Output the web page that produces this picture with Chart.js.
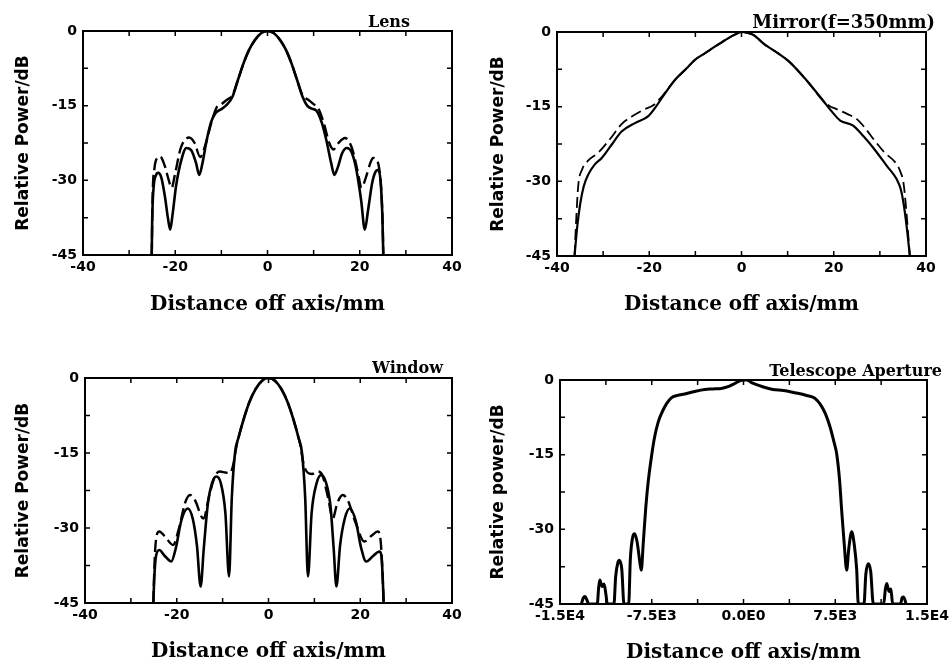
<!DOCTYPE html>
<html>
<head>
<meta charset="utf-8">
<script src="https://cdn.jsdelivr.net/npm/chart.js@4.4.1/dist/chart.umd.min.js"></script>
<style>
  body { margin: 0; background: #fff; }
  #wrap { position: relative; width: 951px; height: 665px; background: #fff; }
  canvas { position: absolute; }
</style>
</head>
<body>
<div id="wrap">
  <canvas id="lens" width="475" height="332" style="left:0;top:0"></canvas>
  <canvas id="mirror" width="476" height="332" style="left:475px;top:0"></canvas>
  <canvas id="window" width="475" height="333" style="left:0;top:332px"></canvas>
  <canvas id="scope" width="476" height="333" style="left:475px;top:332px"></canvas>
</div>
<script>
// values (x in mm, y in dB)

// Lens
const lensSolidX = [-25.1, -25.0, -24.7, -24.2, -23.7, -23.0, -22.2, -21.6, -21.1, -20.6, -19.8, -18.7, -17.6, -16.5, -15.5,
  -14.8, -14.2, -13.2, -12.2, -11.2, -10.0, -8.8, -7.6, -6.4, -5.2, -4.0, -2.8, -1.4, 0, 1.4, 2.8, 4.0, 5.2, 6.4, 7.6,
  8.6, 9.6, 10.6, 11.8, 12.8, 13.8, 14.5, 15.2, 16.2, 17.2, 18.3, 19.3, 20.3, 21.1, 21.8, 22.7, 23.4, 24.0, 24.5, 24.9, 25.1];
const lensSolidY = [-45, -38, -31.5, -29.0, -28.5, -29.5, -33.5, -37.5, -39.9, -37.0, -31.0, -26.0, -23.5, -24.0, -26.5,
  -28.9, -27.0, -22.0, -18.2, -16.4, -15.7, -14.8, -13.2, -9.8, -6.5, -3.8, -1.9, -0.45, 0, -0.45, -1.9, -3.8, -6.5, -9.8, -13.2,
  -15.0, -15.6, -16.0, -18.5, -22.1, -26.5, -28.9, -27.5, -24.5, -23.5, -24.5, -28.0, -34.0, -39.9, -36.0, -30.5, -28.3, -27.9, -30.0, -37.0, -45];
const lensDashX = [-25.1, -24.9, -24.5, -23.9, -23.3, -22.3, -21.4, -20.8, -20.0, -18.8, -17.0, -15.8, -14.6, -13.5, -12.2,
  -11.0, -10.0, -8.8, -7.6, -6.4, -5.2, -4.0, -2.8, -1.4, 0, 1.4, 2.8, 4.0, 5.2, 6.4, 7.6, 8.8, 10.0, 11.0, 12.2,
  13.4, 14.3, 15.3, 16.8, 18.3, 19.5, 20.4, 21.3, 22.3, 22.9, 23.6, 24.2, 24.6, 25.0, 25.1];
const lensDashY = [-45, -33, -27.5, -25.5, -25.2, -27.0, -30.0, -31.5, -28.5, -23.5, -21.4, -22.5, -25.3, -23.0, -18.5,
  -15.3, -14.7, -13.8, -12.9, -9.8, -6.5, -3.8, -1.9, -0.45, 0, -0.45, -1.9, -3.8, -6.5, -9.8, -12.9, -13.8, -14.7, -15.5, -18.5,
  -22.5, -23.8, -22.6, -21.5, -23.5, -28.0, -31.5, -29.5, -26.5, -25.5, -25.8, -27.5, -31, -40, -45];

// Mirror (f=350mm)
const mirrorSolidX = [-36.2, -35.6, -35.0, -34.2, -33.2, -31.8, -30.3, -28.2, -26.0, -23.1, -20.2, -18.7, -17.3, -14.4, -12.0,
  -10.1, -7.8, -5.7, -3.5, -1.4, 0, 1.4, 2.6, 5.0, 7.8, 10.5, 14.0, 17.7, 19.6, 21.4, 24.2, 26.5, 28.6, 31.5, 33.6,
  34.5, 35.1, 35.8, 36.5];
const mirrorSolidY = [-45, -39, -34.7, -31.0, -28.6, -26.6, -25.3, -22.7, -20.0, -18.3, -16.9, -15.2, -13.3, -9.6, -7.4,
  -5.6, -4.2, -2.9, -1.6, -0.5, 0, -0.2, -0.6, -2.5, -4.2, -6.1, -9.6, -13.8, -16.0, -17.8, -18.8, -21.0, -23.3, -26.9, -29.5,
  -31.5, -34.2, -39, -45];
const mirrorDashX = [-36.2, -35.8, -35.4, -34.5, -33.2, -31.0, -28.5, -26.0, -23.8, -21.6, -18.8, -17.3, -14.4, -12.0, -10.1,
  -7.8, -5.7, -3.5, -1.4, 0, 1.4, 2.6, 5.0, 7.8, 10.5, 14.0, 17.7, 19.0, 20.6, 23.0, 25.0, 26.8, 28.6, 31.0, 33.6,
  34.5, 35.1, 35.6, 36.5];
const mirrorDashY = [-45, -37, -30.9, -27.5, -25.8, -24.2, -21.5, -18.5, -17.0, -15.8, -14.5, -13.0, -9.6, -7.4, -5.6,
  -4.2, -2.9, -1.6, -0.5, 0, -0.2, -0.6, -2.5, -4.2, -6.1, -9.6, -13.8, -14.8, -15.5, -16.5, -17.5, -19.3, -21.5, -24.2, -26.5,
  -28.2, -30.2, -34.5, -45];

// Window
const windowSolidX = [-25.1, -24.9, -24.5, -23.8, -22.6, -21.2, -20.2, -19.0, -17.6, -16.5, -15.6, -14.8, -14.1, -13.2, -12.3,
  -11.4, -10.4, -9.4, -8.6, -8.0, -7.3, -6.5, -5.5, -4.2, -2.8, -1.4, 0, 1.4, 2.8, 4.2, 5.5, 6.5, 7.3, 8.0, 8.6,
  9.4, 10.5, 11.5, 12.5, 13.5, 14.2, 14.8, 15.6, 16.6, 17.7, 19.0, 20.2, 21.3, 22.8, 24.2, 24.6, 24.9, 25.1];
const windowSolidY = [-45, -40, -35.5, -34.4, -35.6, -36.7, -34.0, -28.5, -26.1, -28.2, -33.5, -41.7, -34.0, -25.0, -21.0,
  -19.7, -21.0, -27.0, -39.7, -24.0, -15.0, -11.8, -8.5, -4.9, -2.2, -0.55, 0, -0.55, -2.2, -4.9, -8.5, -11.8, -15.0, -24.0, -39.7,
  -27.0, -21.0, -19.4, -20.8, -25.5, -34.0, -41.7, -33.5, -28.2, -26.1, -28.5, -34.0, -36.7, -35.6, -34.7, -35.5, -40, -45];
const windowDashX = [-25.1, -24.8, -24.3, -23.8, -22.5, -20.8, -19.5, -18.2, -17.1, -16.0, -14.2, -12.8, -11.6, -10.6, -9.4,
  -8.4, -7.6, -7.0, -6.5, -5.5, -4.2, -2.8, -1.4, 0, 1.4, 2.8, 4.2, 5.5, 6.5, 7.0, 7.6, 8.5, 9.5, 10.8, 11.8,
  13.0, 14.0, 15.0, 16.2, 17.3, 19.0, 20.9, 22.5, 23.8, 24.3, 24.7, 25.1];
const windowDashY = [-45, -36, -31.2, -30.7, -31.8, -33.4, -30.0, -25.0, -23.4, -24.5, -28.1, -23.0, -19.5, -18.7, -18.9,
  -19.0, -17.0, -13.7, -11.8, -8.5, -4.9, -2.2, -0.55, 0, -0.55, -2.2, -4.9, -8.5, -11.8, -13.7, -17.0, -18.9, -19.2, -18.7, -19.6,
  -24.0, -28.1, -25.0, -23.4, -24.5, -29.0, -32.7, -31.5, -30.7, -31.5, -36, -45];

// Telescope Aperture
const scopeX = [-13250, -13100, -12950, -12800, -12650,
  -11950, -11850, -11750, -11550, -11400, -11250, -11130,
  -10590, -10450, -10250, -10150, -9950, -9770,
  -9385, -9250, -9050, -8900, -8700, -8450, -8354, -8200, -8000, -7807,
  -7500, -7262, -6980, -6717, -6300, -5900, -5400, -4807, -4000, -3172, -2500, -1810, -1200, -720, -300, 0,
  262, 700, 1620, 2400, 3253, 4300, 5166, 5800, 6254, 6700, 7071, 7400, 7616, 7850, 8025, 8250, 8436, 8600, 8845, 9050, 9250, 9384,
  9850, 10000, 10200, 10400, 10610,
  11460, 11600, 11706, 11900, 12050, 12190,
  12840, 12950, 13063, 13200, 13280];
const scopeY = [-45, -43.8, -43.5, -44.2, -45,
  -45, -42, -40.2, -41.5, -41.0, -43, -45,
  -45, -39.5, -36.5, -36.2, -38, -45,
  -45, -36, -31.5, -30.9, -32.5, -37, -38.2, -33, -26, -20.8,
  -15, -11.4, -8.5, -6.8, -4.8, -3.6, -3.1, -2.8, -2.3, -1.9, -1.8, -1.7, -1.3, -0.7, -0.15, 0,
  0, -0.6, -1.4, -1.9, -2.1, -2.6, -3.1, -3.6, -4.8, -6.8, -9.4, -12.5, -14.8, -20, -26.2, -33.5, -38.2, -34, -30.5, -33, -38, -45,
  -45, -39, -36.9, -38.5, -45,
  -45, -42, -40.9, -42.5, -42, -45,
  -45, -43.8, -43.6, -44.2, -45];

// axis ticks
const yTicks = { min: -45, max: 0, step: 7.5, every: 15 };
const mmTicks = { min: -40, max: 40, step: 10, every: 20 };
const scopeTicks = { min: -15000, max: 15000, step: 3750, every: 7500 };

const tickFont = { family: 'DejaVu Sans', weight: 'bold', size: 14 };

// box round the plot, inward ticks on all four sides, and the corner title
const frame = {
  id: 'frame',
  afterDatasetsDraw(chart, args, o) {
    const ctx = chart.ctx, a = chart.chartArea;
    const xs = chart.scales.x, ys = chart.scales.y;
    ctx.save();
    ctx.strokeStyle = '#000';
    ctx.lineWidth = 2;
    ctx.strokeRect(a.left, a.top, a.right - a.left, a.bottom - a.top);
    ctx.lineWidth = 1.5;
    ctx.beginPath();
    xs.ticks.forEach(t => {
      let px = xs.getPixelForValue(t.value);
      ctx.moveTo(px, a.bottom); ctx.lineTo(px, a.bottom - 5);
      ctx.moveTo(px, a.top); ctx.lineTo(px, a.top + 5);
    });
    ys.ticks.forEach(t => {
      let py = ys.getPixelForValue(t.value);
      ctx.moveTo(a.left, py); ctx.lineTo(a.left + 5, py);
      ctx.moveTo(a.right, py); ctx.lineTo(a.right - 5, py);
    });
    ctx.stroke();
    ctx.fillStyle = '#000';
    ctx.font = 'bold ' + o.size + 'px "DejaVu Serif"';
    ctx.textAlign = 'right';
    ctx.textBaseline = 'alphabetic';
    ctx.fillText(o.title, a.right + o.dx, a.top + o.dy);
    ctx.restore();
  }
};

function series(xs, ys, width, dash) {
  return {
    data: xs.map((x, i) => ({ x: x, y: ys[i] })),
    borderColor: '#000',
    borderWidth: width,
    borderDash: dash || [],
    pointRadius: 0,
    fill: false,
    cubicInterpolationMode: 'monotone'
  };
}

function panel(id, p) {
  return new Chart(document.getElementById(id), {
    type: 'line',
    data: { datasets: p.datasets },
    options: {
      responsive: false,
      animation: false,
      devicePixelRatio: 1,
      layout: { padding: { top: p.top, right: p.right, left: 0, bottom: 0 } },
      plugins: {
        legend: { display: false },
        tooltip: { enabled: false },
        frame: { title: p.title, dx: p.dx, dy: p.dy, size: p.size }
      },
      scales: {
        x: {
          type: 'linear',
          min: p.xt.min, max: p.xt.max,
          grid: { display: false, drawTicks: false },
          border: { display: false },
          ticks: {
            stepSize: p.xt.step, autoSkip: false, maxRotation: 0, padding: 4,
            font: tickFont, color: '#000',
            callback: v => (v % p.xt.every === 0 ? p.xFmt(v) : '')
          },
          title: {
            display: true, text: 'Distance off axis/mm', color: '#000',
            font: { family: 'DejaVu Serif', weight: 'bold', size: 20 },
            padding: { top: 0, bottom: p.xTitlePad }
          },
          afterFit: s => { s.height = p.xHeight; s.paddingLeft = 0; s.paddingRight = 0; }
        },
        y: {
          min: yTicks.min, max: yTicks.max,
          grid: { display: false, drawTicks: false },
          border: { display: false },
          ticks: {
            stepSize: yTicks.step, autoSkip: false, padding: 6,
            font: tickFont, color: '#000',
            callback: v => (v % yTicks.every === 0 ? String(v) : '')
          },
          title: {
            display: true, text: p.yTitle, color: '#000',
            font: { family: 'DejaVu Sans', weight: 'bold', size: 17 },
            padding: { top: 13, bottom: 0 }
          },
          afterFit: s => { s.width = p.yWidth; s.paddingTop = 0; s.paddingBottom = 0; }
        }
      }
    },
    plugins: [frame]
  });
}

const plainFmt = v => String(v);
const expFmt = v => v.toExponential(1).toUpperCase().replace('+', '');

panel('lens', {
  datasets: [series(lensSolidX, lensSolidY, 2.6), series(lensDashX, lensDashY, 2.4, [12, 5])],
  title: 'Lens', dx: -42, dy: -4, size: 16,
  top: 31, right: 23, yWidth: 83, xHeight: 77, xTitlePad: 15,
  xt: mmTicks, xFmt: plainFmt, yTitle: 'Relative Power/dB'
});

panel('mirror', {
  datasets: [series(mirrorSolidX, mirrorSolidY, 2.2), series(mirrorDashX, mirrorDashY, 1.8, [11, 5])],
  title: 'Mirror(f=350mm)', dx: 9, dy: -4, size: 18,
  top: 32, right: 25, yWidth: 82, xHeight: 76, xTitlePad: 15,
  xt: mmTicks, xFmt: plainFmt, yTitle: 'Relative Power/dB'
});

panel('window', {
  datasets: [series(windowSolidX, windowSolidY, 2.6), series(windowDashX, windowDashY, 2.4, [12, 5])],
  title: 'Window', dx: -9, dy: -5, size: 16,
  top: 46, right: 23, yWidth: 85, xHeight: 62, xTitlePad: 1,
  xt: mmTicks, xFmt: plainFmt, yTitle: 'Relative Power/dB'
});

panel('scope', {
  datasets: [series(scopeX, scopeY, 3)],
  title: 'Telescope Aperture', dx: 15, dy: -4, size: 16,
  top: 48, right: 24, yWidth: 85, xHeight: 61, xTitlePad: 0,
  xt: scopeTicks, xFmt: expFmt, yTitle: 'Relative power/dB'
});
</script>
</body>
</html>
